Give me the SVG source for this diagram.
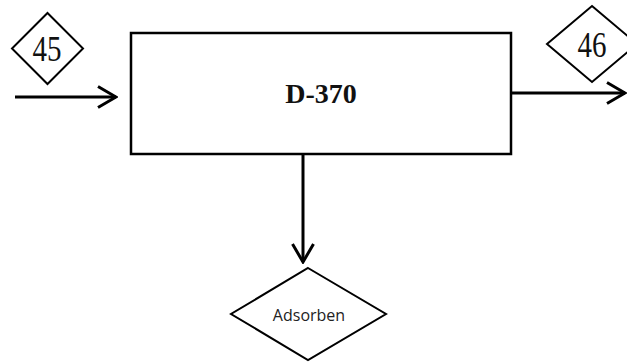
<svg xmlns="http://www.w3.org/2000/svg" width="627" height="363" viewBox="0 0 627 363">
  <style>
    .shape { fill: #ffffff; stroke: #000000; stroke-width: 2; }
    .box { fill: #ffffff; stroke: #000000; stroke-width: 2.5; }
    .line { fill: none; stroke: #000000; stroke-width: 3; }
    .num { font-family: "Liberation Serif", serif; font-size: 29px; fill: #111; text-anchor: middle; }
    .title { font-family: "Liberation Serif", serif; font-size: 28px; font-weight: bold; fill: #111; text-anchor: middle; }
    .label { font-family: "Open Sans", "DejaVu Sans", sans-serif; font-size: 16px; fill: #222; text-anchor: middle; }
  </style>
  <defs>
    <marker id="head" markerWidth="22" markerHeight="26" refX="20" refY="12" orient="auto" markerUnits="userSpaceOnUse">
      <path d="M2,1.5 L20,12 L2,22.5" fill="none" stroke="#000" stroke-width="3"/>
    </marker>
  </defs>

  <g id="connectors">
    <line class="line" x1="15" y1="97" x2="116" y2="97" marker-end="url(#head)"/>
    <line class="line" x1="512" y1="93" x2="625" y2="93" marker-end="url(#head)"/>
    <line class="line" x1="303" y1="155" x2="303" y2="262" marker-end="url(#head)"/>
  </g>

  <g id="stream-45">
    <polygon class="shape" points="47.5,13 83,48.5 47.5,84 12,48.5"/>
    <text class="num" transform="translate(47,61) scale(1,1.2)">45</text>
  </g>

  <g id="d-370">
    <rect class="box" x="131" y="33" width="380" height="121"/>
    <text class="title" x="321" y="103">D-370</text>
  </g>

  <g id="stream-46">
    <polygon class="shape" points="592,6 637,44 592,82 547,44"/>
    <text class="num" transform="translate(592,57) scale(1,1.2)">46</text>
  </g>

  <g id="adsorben">
    <polygon class="shape" points="308,268 386,314 308,360 231,314"/>
    <text class="label" x="309" y="321">Adsorben</text>
  </g>
</svg>
